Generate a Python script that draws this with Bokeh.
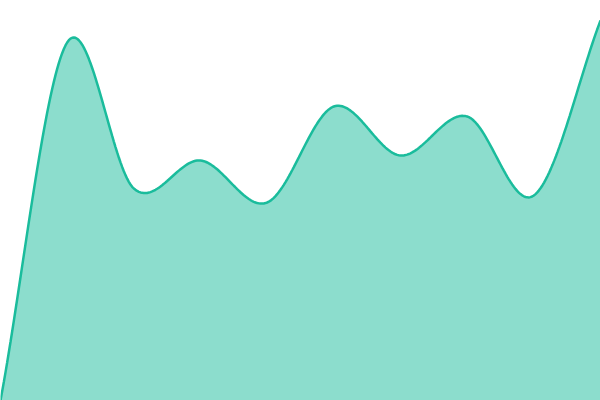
import numpy as np
from bokeh.plotting import figure
from bokeh.embed import file_html
from bokeh.resources import INLINE
from bokeh.models import Range1d

# data
idx = [0, 1, 2, 3, 4, 5, 6, 7, 8, 9]
vals = [0, 358, 212, 240, 198, 294, 245, 284, 205, 380]

def catmull_rom(xs, ys, n=40):
    xs = np.asarray(xs, float); ys = np.asarray(ys, float)
    px = np.concatenate([[2*xs[0]-xs[1]], xs, [2*xs[-1]-xs[-2]]])
    py = np.concatenate([[2*ys[0]-ys[1]], ys, [2*ys[-1]-ys[-2]]])
    ox, oy = [], []
    for i in range(1, len(px)-2):
        t = np.linspace(0, 1, n, endpoint=(i == len(px)-3))
        for P, out in ((px, ox), (py, oy)):
            p0, p1, p2, p3 = P[i-1], P[i], P[i+1], P[i+2]
            out.extend(0.5*((2*p1) + (-p0+p2)*t + (2*p0-5*p1+4*p2-p3)*t**2 + (-p0+3*p1-3*p2+p3)*t**3))
    return np.array(ox), np.array(oy)

sx, sy = catmull_rom(idx, vals)

p = figure(width=600, height=400, output_backend="svg", toolbar_location=None,
           x_range=Range1d(idx[0], idx[-1]), y_range=Range1d(0, 400),
           min_border=0, outline_line_color=None)
p.axis.visible = False
p.grid.visible = False
p.background_fill_color = "white"
p.varea(x=sx, y1=0, y2=sy, fill_color="#1abc9c", fill_alpha=0.5)
p.line(sx, sy, line_color="#1abc9c", line_width=2.5)

html = file_html(p, INLINE)
html = html.replace("<head>", "<head><style>html,body{margin:0;padding:0;overflow:hidden}</style>", 1)
open("out.html", "w").write(html)
